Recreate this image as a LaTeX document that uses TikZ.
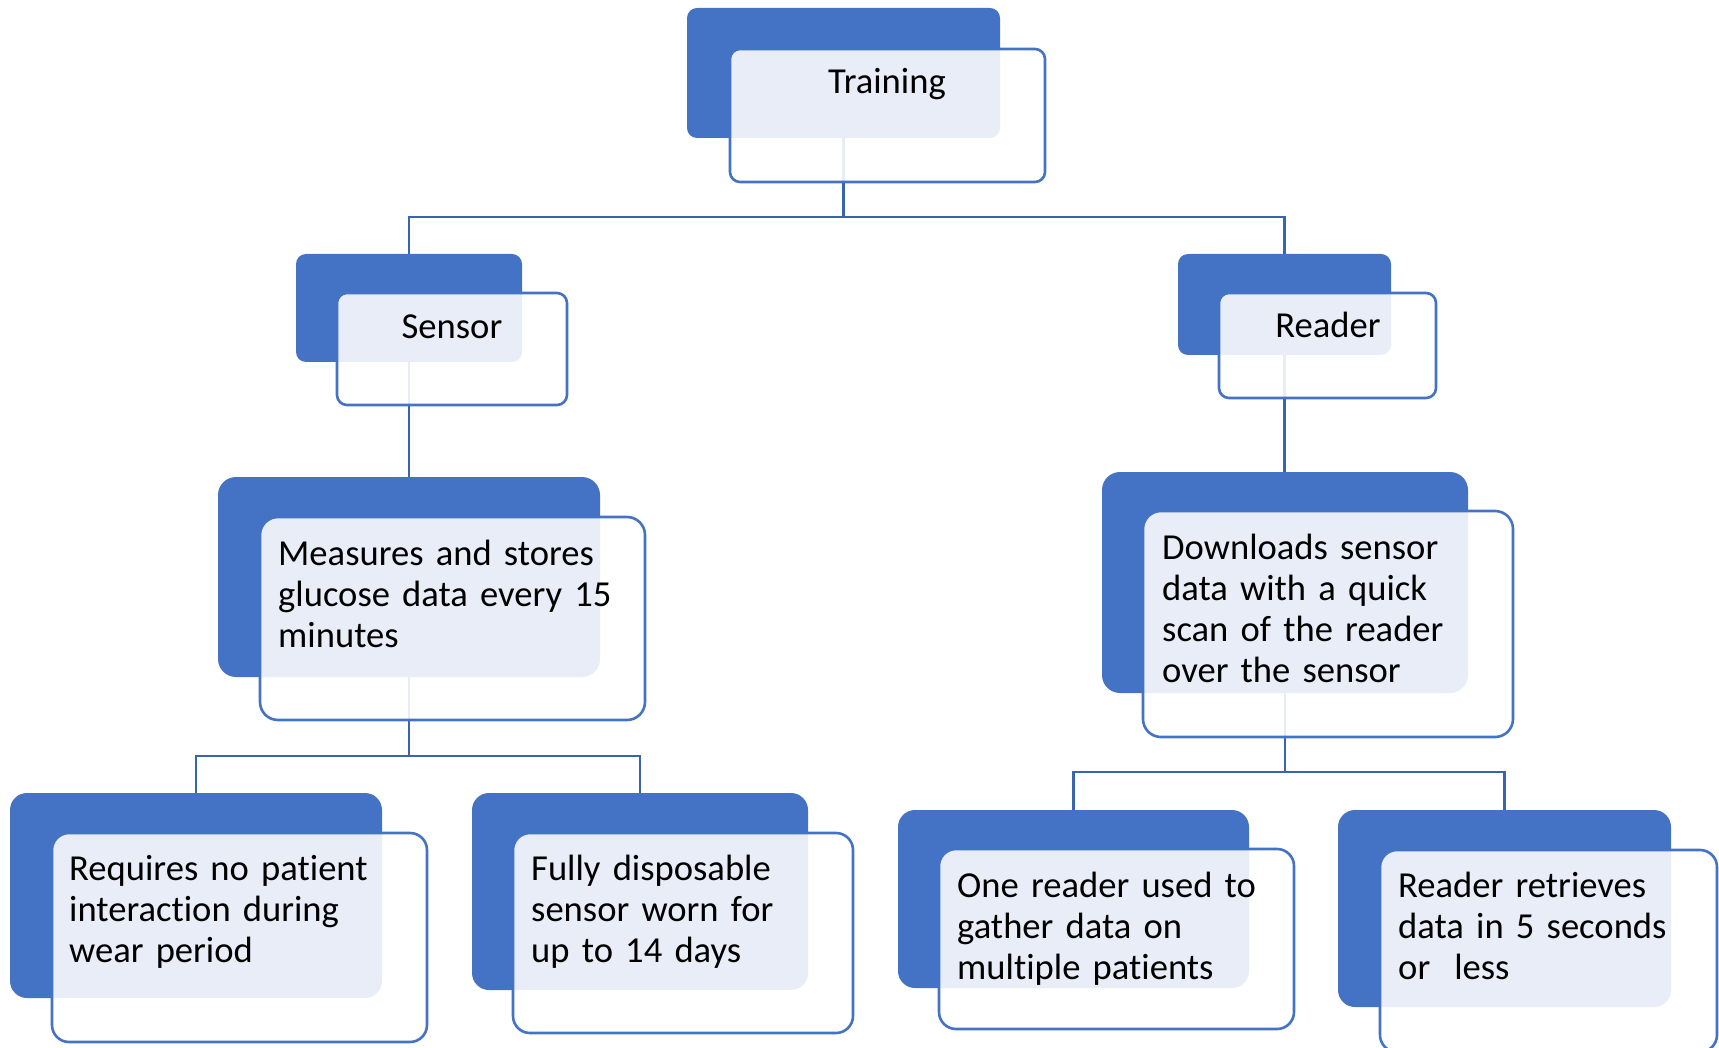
\documentclass[tikz,border=0pt]{standalone}
\usepackage{fontspec}
\setmainfont{Carlito}[Ligatures=NoCommon]
\usetikzlibrary{fit}
\definecolor{accent}{HTML}{4472C4}
\definecolor{linkc}{HTML}{3A64B0}
\pgfdeclarelayer{links}
\pgfsetlayers{links,main}
\tikzset{
  backbox/.style={rectangle, fill=accent, draw=none, inner sep=0pt, outer sep=0pt, rounded corners=#1},
  frontbox/.style={rectangle, fill=white, fill opacity=0.88, draw=accent, line width=2.6pt,
    inner sep=0pt, outer sep=0pt, rounded corners=#1},
  title/.style={anchor=base, inner sep=0pt, text=black,
    font=\fontsize{36.6pt}{41pt}\selectfont},
  body/.style={anchor=base west, inner sep=0pt, text=black, text width=420pt, align=left,
    font=\fontsize{36.6pt}{41pt}\selectfont},
  link/.style={draw=linkc, line width=2.6pt}
}
\begin{document}
\begin{tikzpicture}[x=1pt, y=-1pt]
\useasboundingbox (0,0) rectangle (1719,1048);

% top level
\node[backbox=10pt, fit={(687,8) (1000,138)}] (trainB) {};
\node[frontbox=10pt, fit={(730,49) (1045,182)}] (trainF) {};
\node[title] (trainT) at (887,94) {Training};

% second level
\node[backbox=10pt, fit={(296,254) (522,362)}] (sensB) {};
\node[frontbox=10pt, fit={(337,293) (567,405)}] (sensF) {};
\node[title] (sensT) at (452,339) {Sensor};

\node[backbox=10pt, fit={(1178,254) (1391,355)}] (readB) {};
\node[frontbox=10pt, fit={(1219,293) (1436,398)}] (readF) {};
\node[title] (readT) at (1328,338) {Reader};

% third level
\node[backbox=18pt, fit={(218,477) (600,677)}] (measB) {};
\node[frontbox=18pt, fit={(260,517) (645,720)}] (measF) {};
\node[body] (measT) at (278,565) {Measures and stores\\glucose data every 15\\minutes};

\node[backbox=18pt, fit={(1102,472) (1468,693)}] (downB) {};
\node[frontbox=18pt, fit={(1143,511) (1513,737)}] (downF) {};
\node[body] (downT) at (1162,559) {Downloads sensor\\data with a quick\\scan of the reader\\over the sensor};

% leaves
\node[backbox=17pt, fit={(10,793) (382,998)}] (reqB) {};
\node[frontbox=17pt, fit={(52,833) (427,1042)}] (reqF) {};
\node[body] (reqT) at (69,880) {Requires no patient\\interaction during\\wear period};

\node[backbox=17pt, fit={(472,793) (808,990)}] (dispB) {};
\node[frontbox=17pt, fit={(513,833) (853,1033)}] (dispF) {};
\node[body] (dispT) at (531,880) {Fully disposable\\sensor worn for\\up to 14 days};

\node[backbox=17pt, fit={(898,810) (1249,988)}] (oneB) {};
\node[frontbox=17pt, fit={(939,849) (1294,1029)}] (oneF) {};
\node[body] (oneT) at (957,897) {One reader used to\\gather data on\\multiple patients};

\node[backbox=17pt, fit={(1338,810) (1671,1007)}] (retB) {};
\node[frontbox=17pt, fit={(1380,850) (1717,1052)}] (retF) {};
\node[body] (retT) at (1398,897) {Reader retrieves\\data in 5 seconds\\or\hspace*{24pt}less};

% connectors, kept beneath the boxes
\begin{pgfonlayer}{links}
\draw[link] (trainB.south) |- ([yshift=37pt]sensB.north) -- (sensB.north);
\draw[link] (trainB.south) |- ([yshift=37pt]readB.north) -- (readB.north);
\draw[link] (sensB.south) -- (sensB.south |- measB.north);
\draw[link] (readB.south) -- (readB.south |- downB.north);
\draw[link] (measB.south) |- ([yshift=37pt]reqB.north) -- (reqB.north);
\draw[link] (measB.south) |- ([yshift=37pt]dispB.north) -- (dispB.north);
\draw[link] (downB.south) |- ([yshift=38pt]oneB.north) -- (oneB.north);
\draw[link] (downB.south) |- ([yshift=38pt]retB.north) -- (retB.north);
\end{pgfonlayer}
\end{tikzpicture}
\end{document}
